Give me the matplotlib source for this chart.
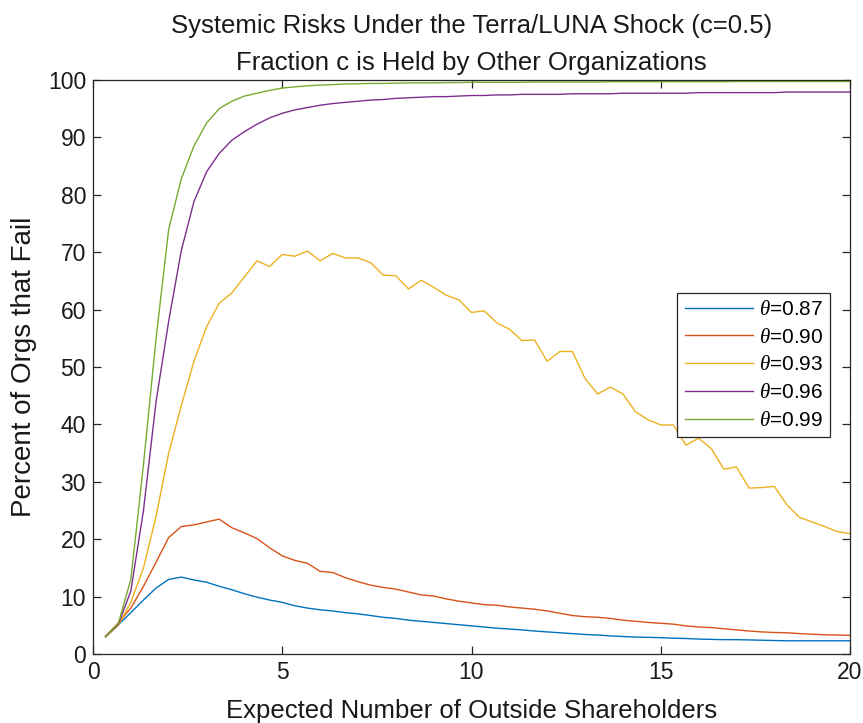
import numpy as np
import matplotlib
matplotlib.use("Agg")
import matplotlib.pyplot as plt

# x grid: expected number of outside shareholders (step 1/3)
x = np.arange(1, 61) / 3.0

theta_labels = [r"$\theta$=0.87", r"$\theta$=0.90", r"$\theta$=0.93", r"$\theta$=0.96", r"$\theta$=0.99"]

y087 = [3.1, 5.1, 7.2, 9.4, 11.5, 13.0, 13.4, 12.9, 12.5, 11.8,
        11.2, 10.5, 9.9, 9.4, 9.0, 8.4, 8.0, 7.7, 7.5, 7.2,
        7.0, 6.7, 6.4, 6.2, 5.9, 5.7, 5.5, 5.3, 5.1, 4.9,
        4.7, 4.5, 4.35, 4.2, 4.0, 3.85, 3.7, 3.55, 3.4, 3.3,
        3.15, 3.05, 2.95, 2.9, 2.85, 2.75, 2.7, 2.6, 2.55, 2.5,
        2.5, 2.45, 2.4, 2.35, 2.3, 2.3, 2.3, 2.3, 2.3, 2.3]

y090 = [3.1, 5.4, 8.0, 11.8, 16.0, 20.3, 22.2, 22.5, 23.0, 23.5,
        22.0, 21.1, 20.1, 18.5, 17.1, 16.3, 15.8, 14.4, 14.2, 13.3,
        12.6, 12.0, 11.6, 11.3, 10.8, 10.3, 10.1, 9.6, 9.2, 8.9,
        8.6, 8.5, 8.2, 8.0, 7.8, 7.5, 7.1, 6.7, 6.5, 6.4,
        6.2, 5.9, 5.7, 5.5, 5.35, 5.2, 4.9, 4.7, 4.6, 4.4,
        4.2, 4.0, 3.85, 3.75, 3.7, 3.55, 3.45, 3.35, 3.3, 3.25]

y093 = [3.0, 5.0, 9.0, 15.0, 24.0, 35.0, 43.3, 51.0, 57.0, 61.1,
        62.9, 65.7, 68.5, 67.5, 69.6, 69.3, 70.2, 68.5, 69.8, 69.0,
        69.0, 68.2, 66.0, 65.9, 63.6, 65.1, 63.9, 62.5, 61.7, 59.5,
        59.8, 57.7, 56.6, 54.6, 54.7, 51.0, 52.7, 52.7, 48.0, 45.3,
        46.5, 45.3, 42.2, 40.8, 39.9, 39.9, 36.4, 37.6, 35.8, 32.2,
        32.6, 28.9, 29.0, 29.2, 26.0, 23.8, 23.0, 22.2, 21.3, 21.0]

y096 = [3.0, 5.1, 11.0, 25.0, 44.0, 58.0, 70.3, 78.8, 84.0, 87.2,
        89.5, 91.0, 92.3, 93.4, 94.2, 94.8, 95.2, 95.6, 95.9, 96.1,
        96.3, 96.5, 96.6, 96.8, 96.9, 97.0, 97.1, 97.1, 97.2, 97.3,
        97.3, 97.4, 97.4, 97.5, 97.5, 97.5, 97.5, 97.6, 97.6, 97.6,
        97.6, 97.7, 97.7, 97.7, 97.7, 97.7, 97.7, 97.8, 97.8, 97.8,
        97.8, 97.8, 97.8, 97.8, 97.9, 97.9, 97.9, 97.9, 97.9, 97.9]

y099 = [3.0, 5.3, 13.0, 33.0, 55.0, 74.0, 82.8, 88.5, 92.5, 95.0,
        96.3, 97.2, 97.7, 98.2, 98.6, 98.8, 99.0, 99.1, 99.2, 99.3,
        99.35, 99.4, 99.4, 99.45, 99.5, 99.5, 99.5, 99.55, 99.55, 99.6,
        99.6, 99.6, 99.6, 99.6, 99.65, 99.65, 99.65, 99.65, 99.65, 99.65,
        99.7, 99.7, 99.7, 99.7, 99.7, 99.7, 99.7, 99.7, 99.7, 99.7,
        99.75, 99.75, 99.75, 99.75, 99.75, 99.75, 99.75, 99.75, 99.75, 99.75]

series = [y087, y090, y093, y096, y099]
colors = ["#0072BD", "#D95319", "#EDB120", "#7E2F8E", "#77AC30"]

x_ticks = [0, 5, 10, 15, 20]
y_ticks = list(range(0, 101, 10))

plt.rcParams["font.family"] = ["Liberation Sans", "DejaVu Sans"]
plt.rcParams["mathtext.fontset"] = "custom"
plt.rcParams["mathtext.it"] = "Liberation Serif:italic"

fig = plt.figure(figsize=(8.63, 7.23), dpi=100)
ax = fig.add_axes([93/863, 1 - 654/723, (850-93)/863, (654-80)/723])

for ys, c, lab in zip(series, colors, theta_labels):
    ax.plot(x, ys, color=c, lw=1.0, label=lab)

ax.set_xlim(0, 20)
ax.set_ylim(0, 100)
ax.set_xticks(x_ticks)
ax.set_yticks(y_ticks)
edge = "#262626"
for sp in ax.spines.values():
    sp.set_color(edge)
    sp.set_linewidth(0.9)
ax.tick_params(direction="in", length=6, width=0.9, colors=edge,
               top=True, right=True, labelsize=16.5, pad=5)
for lbl in ax.get_xticklabels() + ax.get_yticklabels():
    lbl.set_color("#1a1a1a")

ax.set_xlabel("Expected Number of Outside Shareholders", fontsize=18.5, color="#1a1a1a", labelpad=11)
ax.set_ylabel("Percent of Orgs that Fail", fontsize=20, color="#1a1a1a", labelpad=8)
ax.set_title("Systemic Risks Under the Terra/LUNA Shock (c=0.5)\nFraction c is Held by Other Organizations",
             fontsize=18.5, color="#1a1a1a", linespacing=1.7, pad=7)

leg = ax.legend(loc="center right", bbox_to_anchor=(0.974, 0.5035), fontsize=15,
                frameon=True, fancybox=False, edgecolor="#262626", framealpha=1,
                handlelength=3.3, handletextpad=0.25, labelspacing=0.42,
                borderpad=0.35, borderaxespad=0)
leg.get_frame().set_linewidth(0.9)

fig.savefig("out.png", dpi=100)
